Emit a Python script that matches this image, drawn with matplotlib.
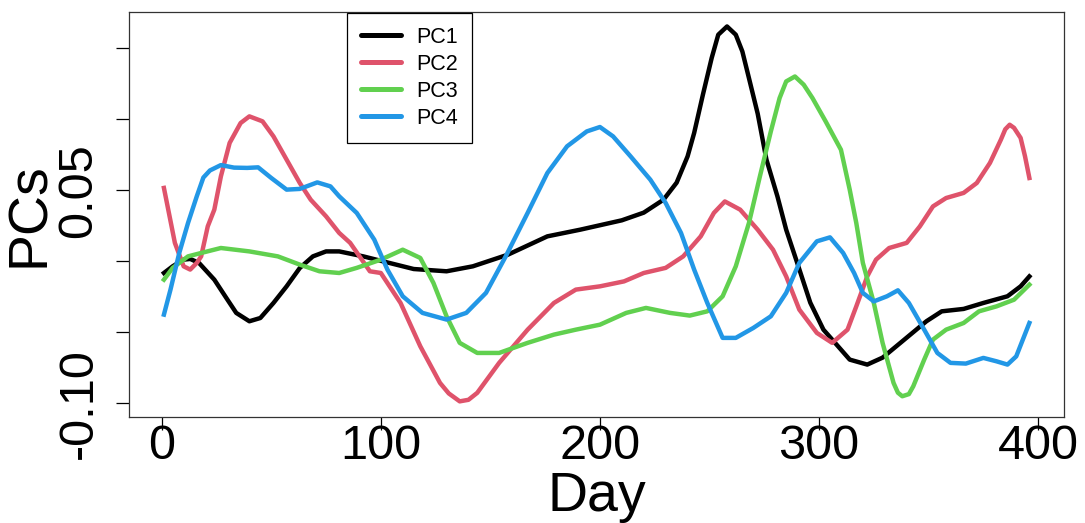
import numpy as np
import matplotlib
matplotlib.use("Agg")
import matplotlib.pyplot as plt

plt.rcParams['font.family'] = ['Liberation Sans', 'DejaVu Sans']

# values
pc1_day = [1, 5, 10, 13, 17, 24, 30, 34, 40, 45, 51, 57, 63, 69, 75, 81, 92, 101,
           115, 130, 142, 158, 176, 191, 210, 220, 229, 235, 240, 243, 247, 251,
           254, 258, 262, 265, 268, 272, 276, 281, 285, 290, 296, 302, 306, 314,
           322, 329, 338, 349, 356, 366, 375, 386, 392, 396]
pc1_val = [-0.0082, -0.0035, 0.0012, 0.0017, -0.0011, -0.0129, -0.0270, -0.0363,
           -0.0422, -0.0399, -0.0293, -0.0176, -0.0047, 0.0035, 0.0070, 0.0070,
           0.0035, 0.0000, -0.0054, -0.0070, -0.0035, 0.0047, 0.0176, 0.0223,
           0.0289, 0.0343, 0.0434, 0.0554, 0.0739, 0.0904, 0.1174, 0.1432, 0.1596,
           0.1654, 0.1596, 0.1478, 0.1291, 0.1040, 0.0716, 0.0458, 0.0223, -0.0009,
           -0.0291, -0.0481, -0.0551, -0.0692, -0.0727, -0.0678, -0.0563, -0.0422,
           -0.0352, -0.0335, -0.0293, -0.0246, -0.0176, -0.0106]

pc2_day = [1, 6, 10, 13, 16, 18, 21, 24, 27, 31, 36, 40, 46, 51, 57, 63, 68, 75,
           81, 86, 95, 100, 109, 118, 127, 131, 136, 140, 144, 154, 167, 179, 189,
           200, 211, 220, 230, 238, 246, 252, 257, 264, 272, 279, 285, 291, 299,
           306, 313, 317, 322, 326, 332, 340, 346, 352, 358, 366, 372, 378, 383,
           385, 387, 389, 392, 394, 396]
pc2_val = [0.0517, 0.0130, -0.0035, -0.0058, -0.0011, 0.0035, 0.0246, 0.0364,
           0.0598, 0.0834, 0.0974, 0.1021, 0.0986, 0.0880, 0.0716, 0.0552, 0.0434,
           0.0317, 0.0200, 0.0130, -0.0070, -0.0082, -0.0293, -0.0598, -0.0856,
           -0.0930, -0.0986, -0.0975, -0.0926, -0.0715, -0.0481, -0.0293, -0.0199,
           -0.0176, -0.0141, -0.0082, -0.0046, 0.0035, 0.0176, 0.0341, 0.0422,
           0.0364, 0.0223, 0.0082, -0.0106, -0.0340, -0.0504, -0.0574, -0.0481,
           -0.0317, -0.0106, 0.0012, 0.0094, 0.0130, 0.0246, 0.0387, 0.0446, 0.0482,
           0.0552, 0.0693, 0.0857, 0.0930, 0.0962, 0.0940, 0.0869, 0.0740, 0.0587]

pc3_day = [1, 5, 12, 18, 27, 40, 53, 63, 72, 81, 89, 100, 110, 118, 124, 130, 136,
           144, 154, 167, 179, 189, 200, 212, 221, 232, 241, 249, 256, 262, 268,
           273, 278, 282, 285, 289, 293, 297, 303, 306, 310, 314, 317, 320, 325,
           329, 334, 336, 338, 341, 343, 348, 352, 358, 366, 373, 381, 389, 396]
pc3_val = [-0.0129, -0.0046, 0.0035, 0.0059, 0.0094, 0.0070, 0.0035, -0.0023,
           -0.0070, -0.0082, -0.0046, 0.0012, 0.0082, 0.0024, -0.0152, -0.0387,
           -0.0574, -0.0645, -0.0645, -0.0574, -0.0516, -0.0481, -0.0446, -0.0363,
           -0.0328, -0.0363, -0.0382, -0.0352, -0.0246, -0.0035, 0.0270, 0.0598,
           0.0915, 0.1150, 0.1267, 0.1302, 0.1244, 0.1150, 0.0986, 0.0900, 0.0786,
           0.0505, 0.0270, -0.0011, -0.0293, -0.0574, -0.0856, -0.0925, -0.0950,
           -0.0935, -0.0880, -0.0692, -0.0551, -0.0481, -0.0434, -0.0352, -0.0317,
           -0.0270, -0.0164]

pc4_day = [1, 4, 8, 12, 16, 19, 22, 27, 33, 39, 44, 50, 57, 63, 71, 77, 81, 89,
           97, 103, 110, 119, 130, 139, 148, 157, 167, 176, 185, 194, 200, 206,
           214, 223, 230, 237, 243, 249, 256, 262, 270, 278, 285, 291, 299, 305,
           311, 316, 320, 325, 331, 336, 341, 348, 354, 360, 367, 375, 381, 386,
           390, 396]
pc4_val = [-0.0375, -0.0199, 0.0059, 0.0270, 0.0458, 0.0590, 0.0640, 0.0678,
           0.0660, 0.0658, 0.0662, 0.0587, 0.0505, 0.0510, 0.0556, 0.0528, 0.0458,
           0.0341, 0.0153, -0.0058, -0.0246, -0.0363, -0.0410, -0.0363, -0.0222,
           0.0035, 0.0341, 0.0622, 0.0810, 0.0915, 0.0946, 0.0880, 0.0739, 0.0575,
           0.0411, 0.0200, -0.0058, -0.0293, -0.0539, -0.0539, -0.0469, -0.0387,
           -0.0222, -0.0011, 0.0141, 0.0169, 0.0059, -0.0082, -0.0222, -0.0282,
           -0.0246, -0.0204, -0.0293, -0.0481, -0.0645, -0.0715, -0.0720, -0.0680,
           -0.0704, -0.0727, -0.0669, -0.0434]

series = [("PC1", pc1_day, pc1_val, "#000000"),
          ("PC2", pc2_day, pc2_val, "#DF536B"),
          ("PC3", pc3_day, pc3_val, "#61D04F"),
          ("PC4", pc4_day, pc4_val, "#2297E6")]

y_ticks = [-0.10, -0.05, 0.0, 0.05, 0.10, 0.15]
y_labels = ["-0.10", "", "", "0.05", "", ""]
x_ticks = [0, 100, 200, 300, 400]

W, H = 1085, 523
fig = plt.figure(figsize=(W / 100, H / 100), dpi=100)
ax = fig.add_axes([129.3 / W, 1 - 416.7 / H, (1064 - 129.3) / W, (416.7 - 11.7) / H])

for name, d, v, c in series:
    ax.plot(d, v, color=c, lw=3.2, label=name, solid_joinstyle='round')

ax.set_xlim(-14.8, 411.8)
ax.set_ylim(-0.1094, 0.1758)

ax.set_xticks(x_ticks)
ax.set_xticklabels([str(t) for t in x_ticks])
ax.set_yticks(y_ticks)
ax.set_yticklabels(y_labels, rotation=90, va='center')

ax.tick_params(axis='both', length=9.1, width=0.9, labelsize=35, color='black')
ax.tick_params(axis='x', pad=-3.5)
ax.tick_params(axis='y', pad=11)

for s in ax.spines.values():
    s.set_linewidth(0.9)
    s.set_color('#333333')

ax.set_xlabel("Day", fontsize=40, labelpad=1)
ax.set_ylabel("PCs", fontsize=40, labelpad=0)

leg = ax.legend(loc='upper left', bbox_to_anchor=(347 / W, 1 - 12.7 / H),
                bbox_transform=fig.transFigure, borderaxespad=0, fontsize=15.5,
                handlelength=1.85, handletextpad=0.7, labelspacing=0.28,
                borderpad=0.65, fancybox=False, framealpha=1)
leg.get_frame().set_edgecolor('black')
leg.get_frame().set_linewidth(0.9)
for line in leg.get_lines():
    line.set_linewidth(3.6)
    line.set_solid_capstyle('round')

fig.savefig("out.png", dpi=100)
